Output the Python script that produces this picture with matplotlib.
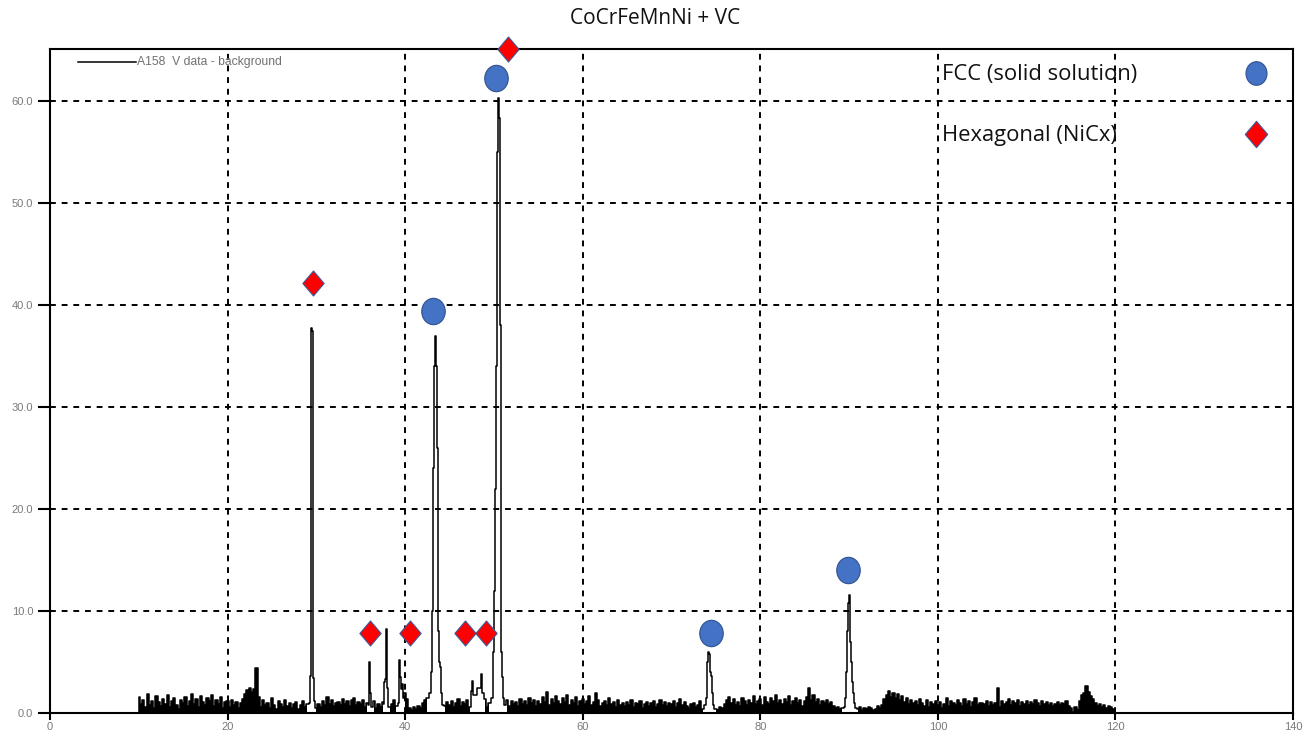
import numpy as np
import matplotlib
matplotlib.use("Agg")
import matplotlib.pyplot as plt
from matplotlib.path import Path
from matplotlib.transforms import Affine2D

# ---------------- data ----------------
title = "CoCrFeMnNi + VC"
trace_label = "A158  V data - background"

# background counts, 2-theta from 10.0 to 120.0 in 0.25 deg steps
bg_start, bg_step = 10.0, 0.25
background = [
    1.6, 0.9, 1.3, 0.6, 1.9, 0.8, 1.2, 0.5, 1.7, 1.1,
    0.7, 1.4, 0.9, 1.8, 0.6, 1.2, 1.5, 0.8, 0.4, 1.3,
    1.0, 1.6, 0.7, 1.2, 1.9, 0.9, 1.4, 0.6, 1.7, 1.1,
    0.8, 1.5, 1.2, 1.8, 0.7, 1.3, 0.9, 1.6, 0.5, 1.1,
    1.2, 0.6, 1.3, 0.8, 1.1, 0.5, 1.0, 1.4, 1.9, 2.3,
    2.5, 2.1, 2.4, 4.4, 1.6, 0.6, 1.3, 0.8, 1.0, 0.5,
    1.5, 0.8, 0.4, 1.2, 0.9, 0.6, 1.3, 0.7, 1.0, 0.5,
    0.9, 1.1, 0.4, 0.8, 1.2, 0.6, 0.9, 1.0, 0.8, 0.7,
    0.5, 0.9, 0.6, 1.2, 0.8, 1.6, 0.9, 1.3, 0.7, 1.0,
    1.1, 0.8, 1.4, 0.9, 1.2, 0.7, 1.3, 1.5, 0.8, 1.1,
    0.9, 1.3, 0.6, 1.0, 0.8, 0.7, 1.2, 0.5, 0.9, 0.6,
    1.1, 0.7, 0.8, 0.6, 0.9, 1.3, 0.7, 1.0, 1.2, 0.8,
    2.0, 1.4, 0.5, 0.3, 0.6, 0.4, 0.7, 0.5, 1.0, 1.3,
    1.5, 1.8, 1.4, 1.6, 1.2, 1.0, 1.3, 0.9, 0.7, 1.1,
    0.8, 1.2, 0.6, 1.0, 1.4, 0.7, 1.1, 0.9, 1.3, 0.6,
    1.0, 0.8, 1.2, 0.7, 1.1, 0.9, 1.4, 0.6, 1.0, 1.2,
    0.8, 0.6, 0.9, 1.1, 0.5, 1.0, 1.3, 0.7, 1.2, 0.9,
    1.1, 0.7, 1.4, 0.9, 1.2, 0.8, 1.5, 1.0, 1.3, 0.7,
    1.2, 0.9, 1.6, 1.1, 2.1, 0.8, 1.4, 1.0, 1.7, 1.2,
    0.9, 1.5, 1.1, 1.8, 0.8, 1.3, 1.0, 1.6, 0.7, 1.2,
    1.4, 0.9, 1.2, 1.7, 0.8, 1.1, 2.0, 1.3, 0.7, 1.0,
    1.2, 0.8, 1.5, 0.9, 1.1, 0.6, 1.3, 0.8, 1.0, 0.7,
    1.1, 0.8, 1.3, 0.6, 1.0, 0.9, 1.2, 0.5, 0.9, 1.1,
    0.7, 1.0, 1.2, 0.6, 0.9, 1.3, 0.8, 1.1, 0.7, 1.0,
    0.9, 1.2, 0.6, 1.0, 1.4, 0.8, 1.1, 0.7, 0.5, 0.9,
    1.0, 0.6, 0.8, 1.2, 0.4, 0.3, 0.5, 0.8, 1.0, 0.6,
    0.4, 0.3, 0.6, 0.5, 0.9, 1.3, 1.6, 1.0, 1.4, 0.8,
    1.1, 0.7, 1.5, 1.2, 0.8, 1.3, 1.0, 1.7, 0.9, 1.2,
    1.4, 0.8, 1.6, 1.1, 0.9, 1.5, 1.2, 1.8, 1.0, 1.3,
    0.9, 1.4, 1.1, 1.7, 0.8, 1.2, 1.5, 1.0, 1.3, 0.7,
    1.2, 1.6, 2.5, 1.3, 1.8, 1.1, 1.4, 0.8, 1.2, 1.0,
    1.3, 0.9, 1.1, 0.7, 0.5, 0.6, 0.4, 0.5, 0.3, 0.5,
    0.4, 0.3, 0.5, 0.3, 0.4, 0.6, 0.3, 0.5, 0.4, 0.6,
    0.5, 0.3, 0.4, 0.7, 0.5, 0.8, 1.4, 1.8, 2.2, 1.6,
    2.0, 1.5, 1.9, 1.3, 1.7, 1.1, 1.5, 0.9, 1.3, 1.0,
    1.2, 0.8, 1.4, 1.0, 0.7, 1.3, 0.6, 1.1, 0.9, 1.2,
    0.8, 1.1, 0.5, 0.9, 1.5, 0.7, 1.2, 1.0, 0.8, 1.3,
    1.0, 0.7, 1.4, 0.9, 1.2, 0.6, 1.1, 1.5, 0.8, 1.0,
    1.0, 0.9, 1.2, 0.7, 1.1, 0.8, 1.0, 2.5, 0.6, 1.2,
    0.9, 1.1, 1.4, 0.8, 1.2, 1.0, 1.3, 0.7, 1.1, 0.9,
    1.2, 0.8, 1.1, 0.9, 1.3, 1.0, 0.7, 1.2, 0.9, 1.1,
    0.8, 1.0, 0.7, 0.9, 1.1, 0.8, 1.0, 0.9, 1.2, 0.7,
    0.5, 0.1, 0.6, 0.3, 1.2, 1.8, 2.0, 2.6, 2.1, 1.7,
    1.4, 1.0, 0.7, 0.9, 0.6, 0.8, 0.5, 0.7, 0.6, 0.4,
    0.3,
]

# diffraction peaks: (2-theta, intensity) pairs
peak_29 = [(29.25, 1.0), (29.35, 3.6), (29.45, 37.7), (29.55, 37.5), (29.65, 3.4), (29.75, 1.2)]
peak_36 = [(35.9, 0.8), (36.0, 5.0), (36.1, 2.0), (36.2, 0.6)]
peak_38 = [(37.6, 0.9), (37.7, 3.0), (37.8, 3.3), (37.9, 8.2), (38.0, 2.5), (38.1, 0.6)]
peak_39 = [(39.3, 1.0), (39.4, 5.2), (39.5, 3.5), (39.6, 2.4), (39.7, 2.8), (39.8, 1.5)]
peak_43 = [(42.6, 1.5), (42.8, 2.0), (43.0, 4.0), (43.1, 10.0), (43.2, 24.0), (43.3, 34.0),
           (43.4, 37.0), (43.5, 34.0), (43.6, 26.0), (43.7, 14.0), (43.8, 8.0), (43.9, 5.0),
           (44.0, 4.5), (44.1, 2.0), (44.2, 0.8)]
peak_48 = [(47.5, 2.2), (47.6, 3.1), (47.7, 1.8), (48.5, 2.5), (48.6, 3.8), (48.7, 2.0)]
peak_50 = [(49.8, 1.5), (49.9, 3.0), (50.0, 6.0), (50.1, 12.0), (50.2, 22.0), (50.3, 34.0),
           (50.4, 55.0), (50.5, 60.3), (50.6, 58.3), (50.7, 38.0), (50.8, 14.0), (50.9, 6.0),
           (51.0, 3.5), (51.1, 1.5), (51.2, 0.8)]
peak_74 = [(73.8, 0.8), (73.9, 1.5), (74.0, 3.0), (74.1, 5.0), (74.2, 6.0), (74.3, 5.8),
           (74.4, 4.0), (74.5, 3.6), (74.6, 2.0), (74.7, 0.8), (74.8, 0.4)]
peak_90 = [(89.5, 0.6), (89.6, 1.5), (89.7, 4.0), (89.8, 8.0), (89.9, 10.8), (90.0, 11.6),
           (90.1, 10.0), (90.2, 7.0), (90.3, 5.0), (90.4, 3.0), (90.5, 2.0), (90.6, 1.0),
           (90.7, 0.5)]
peaks = [peak_29, peak_36, peak_38, peak_39, peak_43, peak_48, peak_50, peak_74, peak_90]

# phase markers (2-theta, height of marker)
fcc_x = [43.15, 50.25, 74.5, 89.9]
fcc_y = [39.4, 62.3, 7.8, 14.0]
hex_x = [29.6, 36.05, 40.55, 46.75, 49.1, 51.6]
hex_y = [42.2, 7.8, 7.8, 7.8, 7.8, 65.1]
phase_labels = ["FCC (solid solution)", "Hexagonal (NiCx)"]

x_ticks = [0, 20, 40, 60, 80, 100, 120, 140]
y_ticks = [0.0, 10.0, 20.0, 30.0, 40.0, 50.0, 60.0]

# ---------------- assemble trace ----------------
bg_x = bg_start + bg_step * np.arange(len(background))
bg_y = np.array(background)
keep = np.ones(len(bg_x), dtype=bool)
px_all, py_all = [], []
for pk in peaks:
    arr = np.array(pk)
    lo, hi = arr[:, 0].min() - 0.05, arr[:, 0].max() + 0.05
    keep &= ~((bg_x >= lo) & (bg_x <= hi))
    px_all.append(arr[:, 0])
    py_all.append(arr[:, 1])
tx = np.concatenate([bg_x[keep]] + px_all)
ty = np.concatenate([bg_y[keep]] + py_all)
is_bg = np.concatenate([np.ones(keep.sum(), bool)] + [np.zeros(len(a), bool) for a in px_all])
order = np.argsort(tx)
tx, ty, is_bg = tx[order], ty[order], is_bg[order]
tx = np.concatenate([[tx[0]], tx, [tx[-1]]])
ty = np.concatenate([[0.0], ty, [0.0]])
is_bg = np.concatenate([[True], is_bg, [True]])

# ---------------- figure ----------------
W, H = 1311, 736
fig = plt.figure(figsize=(W / 100, H / 100), dpi=100)
ax = fig.add_axes([50 / W, 23 / H, (1293 - 50) / W, (713 - 49) / H])

ax.set_xlim(0, 140)
ax.set_ylim(0, 65.1)

for gx in x_ticks[1:-1]:
    ax.axvline(gx, color="black", lw=1.4, ls=(0, (3, 3)), zorder=1)
for gy in y_ticks[1:]:
    ax.axhline(gy, color="black", lw=1.4, ls=(0, (3, 3)), zorder=1)

# dense noisy baseline rendered as a solid mass, peaks as outlines
ax.fill_between(tx, 0, ty, where=is_bg, step="mid", color="black", lw=0, zorder=2)
ax.plot(tx, ty, color="black", lw=1.1, drawstyle="steps-mid", zorder=2)

for s in ax.spines.values():
    s.set_linewidth(1.5)
    s.set_color("black")

ax.set_xticks(x_ticks)
ax.set_xticklabels([str(v) for v in x_ticks])
ax.set_yticks(y_ticks)
ax.set_yticklabels([f"{v:.1f}" for v in y_ticks])
ax.tick_params(axis="y", length=9, width=1.5, pad=3, labelsize=8, labelcolor="#7a7a7a",
               labelfontfamily="Liberation Sans")
ax.tick_params(axis="x", length=5, width=1.5, pad=1.5, labelsize=8, labelcolor="#7a7a7a",
               labelfontfamily="Liberation Sans")

# marker shapes
ellipse = Path.unit_circle().transformed(Affine2D().scale(0.89, 1.0))
diamond = Path([(0, 1), (0.85, 0), (0, -1), (-0.85, 0), (0, 1)],
               [Path.MOVETO, Path.LINETO, Path.LINETO, Path.LINETO, Path.CLOSEPOLY])

blue, blue_edge, red = "#4472C4", "#2F528F", "#FF0000"
ax.plot(fcc_x, fcc_y, ls="none", marker=ellipse, ms=19, mfc=blue, mec=blue_edge, mew=0.8,
        clip_on=False, zorder=5)
ax.plot(hex_x, hex_y, ls="none", marker=diamond, ms=18, mfc=red, mec="#3A5A9A", mew=0.8,
        clip_on=False, zorder=5)

# phase key
key_font = dict(family=["Open Sans", "DejaVu Sans"], fontsize=15.8, color="#111111",
                va="center")
ax.text(100.5, 62.6, phase_labels[0], **key_font)
ax.text(100.5, 56.6, phase_labels[1], **key_font)
ax.plot([135.8], [62.75], ls="none", marker=ellipse, ms=17, mfc=blue, mec=blue_edge, mew=0.8)
ax.plot([135.8], [56.8], ls="none", marker=diamond, ms=19, mfc=red, mec="#3A5A9A", mew=0.8)

# trace key
ax.plot([3.2, 9.7], [63.8, 63.8], color="black", lw=1.1)
ax.text(9.8, 63.8, trace_label, fontsize=8.7, color="#707070", va="center",
        family="Liberation Sans")

fig.text(0.5, 1 - 18 / H, title, ha="center", va="center", fontsize=15,
         family=["Open Sans", "DejaVu Sans"], color="#111111")

fig.savefig("out.png", dpi=100)
